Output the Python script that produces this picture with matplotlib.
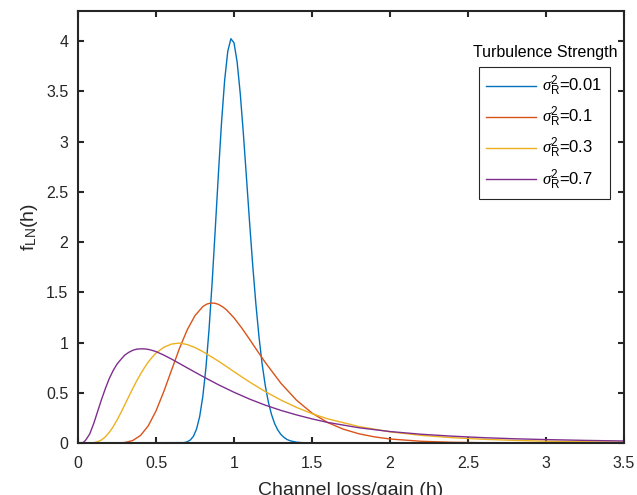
import matplotlib
matplotlib.use('Agg')
import matplotlib.pyplot as plt

plt.rcParams['font.family'] = ['Liberation Sans', 'DejaVu Sans']
plt.rcParams['mathtext.fontset'] = 'custom'
plt.rcParams['mathtext.rm'] = 'Liberation Sans'
plt.rcParams['mathtext.it'] = 'Liberation Serif:italic'
plt.rcParams['mathtext.bf'] = 'Liberation Sans:bold'

# lognormal channel pdf, values per turbulence case
h_001 = [0, 0.68, 0.70, 0.72, 0.74, 0.76, 0.78, 0.80, 0.82, 0.84, 0.86, 0.88, 0.90,
         0.92, 0.94, 0.96, 0.98, 1.00, 1.02, 1.04, 1.06, 1.08, 1.10, 1.12, 1.14,
         1.16, 1.18, 1.20, 1.22, 1.24, 1.26, 1.28, 1.30, 1.32, 1.34, 1.36, 1.40,
         1.45, 1.50, 3.5]
f_001 = [0, 0.004, 0.012, 0.03, 0.067, 0.139, 0.264, 0.462, 0.748, 1.131, 1.602, 2.133,
         2.678, 3.189, 3.61, 3.898, 4.024, 3.984, 3.793, 3.479, 3.081, 2.639, 2.193,
         1.769, 1.388, 1.06, 0.79, 0.576, 0.409, 0.286, 0.195, 0.131, 0.086, 0.056,
         0.035, 0.022, 0.008, 0.002, 0, 0]

h_01 = [0, 0.20, 0.25, 0.30, 0.35, 0.40, 0.45, 0.50, 0.55, 0.60, 0.65, 0.70, 0.75,
        0.80, 0.825, 0.85, 0.875, 0.90, 0.925, 0.95, 1.00, 1.05, 1.10, 1.15, 1.20,
        1.30, 1.40, 1.50, 1.60, 1.70, 1.80, 1.90, 2.00, 2.20, 2.40, 2.60, 2.80,
        3.00, 3.50]
f_01 = [0, 0, 0.001, 0.005, 0.024, 0.074, 0.17, 0.319, 0.512, 0.727, 0.94, 1.126,
        1.268, 1.358, 1.382, 1.393, 1.392, 1.38, 1.358, 1.328, 1.246, 1.144, 1.032,
        0.916, 0.803, 0.596, 0.427, 0.298, 0.204, 0.138, 0.092, 0.061, 0.04, 0.017,
        0.007, 0.003, 0.001, 0.0005, 0]

h_03 = [0, 0.05, 0.10, 0.125, 0.15, 0.175, 0.20, 0.225, 0.25, 0.275, 0.30, 0.325,
        0.35, 0.375, 0.40, 0.425, 0.45, 0.475, 0.50, 0.55, 0.60, 0.65, 0.70, 0.75,
        0.80, 0.90, 1.00, 1.10, 1.20, 1.30, 1.40, 1.50, 1.60, 1.80, 2.00, 2.20,
        2.40, 2.60, 2.80, 3.00, 3.25, 3.50]
f_03 = [0, 0, 0.003, 0.012, 0.03, 0.061, 0.105, 0.161, 0.228, 0.302, 0.381, 0.461,
        0.54, 0.615, 0.684, 0.747, 0.805, 0.853, 0.895, 0.953, 0.985, 0.995, 0.98,
        0.95, 0.91, 0.815, 0.71, 0.607, 0.512, 0.428, 0.355, 0.292, 0.241, 0.164,
        0.111, 0.076, 0.053, 0.037, 0.026, 0.018, 0.012, 0.008]

h_07 = [0, 0.02, 0.035, 0.05, 0.075, 0.10, 0.125, 0.15, 0.175, 0.20, 0.225, 0.25,
        0.275, 0.30, 0.325, 0.35, 0.375, 0.40, 0.425, 0.45, 0.475, 0.50, 0.55,
        0.60, 0.70, 0.80, 0.90, 1.00, 1.10, 1.20, 1.30, 1.40, 1.50, 1.60, 1.80,
        2.00, 2.20, 2.40, 2.60, 2.80, 3.00, 3.25, 3.50]
f_07 = [0, 0.001, 0.006, 0.03, 0.09, 0.19, 0.31, 0.43, 0.54, 0.64, 0.72, 0.785,
        0.832, 0.875, 0.902, 0.922, 0.934, 0.937, 0.937, 0.932, 0.922, 0.91, 0.875,
        0.835, 0.748, 0.662, 0.58, 0.505, 0.437, 0.377, 0.325, 0.28, 0.24, 0.205,
        0.152, 0.114, 0.087, 0.068, 0.053, 0.042, 0.034, 0.026, 0.02]

labels = [r'$\sigma_{\rm R}^{2}$=0.01', r'$\sigma_{\rm R}^{2}$=0.1',
          r'$\sigma_{\rm R}^{2}$=0.3', r'$\sigma_{\rm R}^{2}$=0.7']
colors = ['#0072BD', '#D95319', '#EDB120', '#7E2F8E']

x_ticks = [0, 0.5, 1, 1.5, 2, 2.5, 3, 3.5]
x_tick_labels = ['0', '0.5', '1', '1.5', '2', '2.5', '3', '3.5']
y_ticks = [0, 0.5, 1, 1.5, 2, 2.5, 3, 3.5, 4]
y_tick_labels = ['0', '0.5', '1', '1.5', '2', '2.5', '3', '3.5', '4']

fig = plt.figure(figsize=(6.37, 4.95), dpi=100)
ax = fig.add_axes([78/637, 1 - 443/495, 546/637, 432/495])

curves = [(h_001, f_001), (h_01, f_01), (h_03, f_03), (h_07, f_07)]
lines = []
for (hh, ff), c, lab in zip(curves, colors, labels):
    ln, = ax.plot(hh, ff, color=c, lw=1.0, label=lab, clip_on=False)
    lines.append(ln)

ax.set_xlim(0, 3.5)
ax.set_ylim(0, 4.3)
ax.set_xticks(x_ticks, labels=x_tick_labels)
ax.set_yticks(y_ticks, labels=y_tick_labels)

dark = '#262626'
for sp in ax.spines.values():
    sp.set_linewidth(1.5)
    sp.set_color(dark)
ax.tick_params(direction='in', length=4, width=1.5, colors=dark, labelsize=11.5,
               top=True, right=True)
ax.tick_params(axis='x', pad=9)
ax.tick_params(axis='y', pad=7)
for t in ax.get_xticklabels() + ax.get_yticklabels():
    t.set_color(dark)

ax.set_xlabel('Channel loss/gain (h)', fontsize=14, color=dark, labelpad=8)
ax.set_ylabel(r'f$_{\rm LN}$(h)', fontsize=14, color=dark, labelpad=4)

leg = ax.legend(handles=lines, loc='upper left', bbox_to_anchor=(0.7344, 0.871),
                borderaxespad=0, fontsize=12, handlelength=3.0, handletextpad=0.35,
                labelspacing=0.42, borderpad=0.45, fancybox=False, framealpha=1)
leg.get_frame().set_edgecolor(dark)
leg.get_frame().set_linewidth(0.8)
ax.text(0.855, 0.9035, 'Turbulence Strength', transform=ax.transAxes,
        ha='center', va='center', fontsize=11.5, color='black')

fig.savefig('out.png', dpi=100)
